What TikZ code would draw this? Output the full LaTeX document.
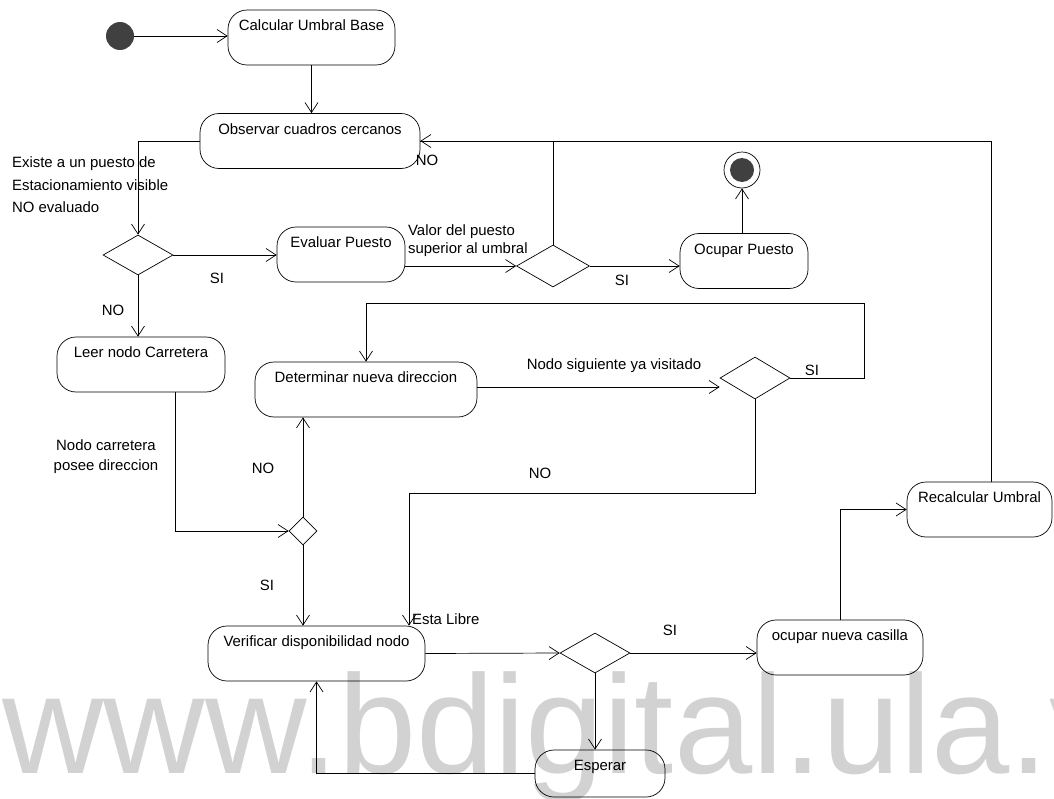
\documentclass[tikz,border=0pt]{standalone}
\usepackage{fontspec}
\setmainfont{Liberation Sans}
\usetikzlibrary{shapes.geometric,arrows.meta}

\begin{document}
\begin{tikzpicture}[x=0.02cm, y=-0.02cm,
    font=\fontsize{8.5}{11}\selectfont,
    act/.style={draw, rounded corners=0.38cm, minimum height=1.1cm, inner xsep=0.1cm,
                inner ysep=0.11cm, text height=0.3cm, text depth=0.58cm},
    decision/.style={draw, diamond, inner sep=0pt},
    flow/.style={-{Straight Barb[length=2mm,width=2.6mm]}},
    lbl/.style={inner sep=1pt}]
    \useasboundingbox (0,0) rectangle (1054,798);
    % Watermark behind everything
    \node[anchor=base west, inner sep=0, text=gray!35, font=\fontsize{80}{80}\selectfont] (marca) at (2,773) {www.bdigital.ula.ve};

    % Start and end
    \node[circle, fill=black!75, minimum size=0.56cm, inner sep=0] (inicio) at (120,36) {};
    \node[circle, draw, minimum size=0.72cm, inner sep=0] (fin) at (742,170) {};
    \node[circle, fill=black!75, minimum size=0.48cm, inner sep=0] (finPunto) at (fin) {};

    % Activities
    \node[act, minimum width=3.34cm] (calc) at (311.5,37.5) {Calcular Umbral Base};
    \node[act, minimum width=4.4cm] (obs) at (310,141) {Observar cuadros cercanos};
    \node[act, minimum width=2.56cm] (eval) at (341,254.5) {Evaluar Puesto};
    \node[act, minimum width=2.56cm] (ocup) at (744,261) {Ocupar Puesto};
    \node[act, minimum width=3.36cm] (leer) at (141,364.5) {Leer nodo Carretera};
    \node[act, minimum width=4.44cm] (det) at (366,389.5) {Determinar nueva direccion};
    \node[act, minimum width=4.34cm] (verif) at (316.5,653.5) {Verificar disponibilidad nodo};
    \node[act, minimum width=3.32cm] (casilla) at (840,647.5) {ocupar nueva casilla};
    \node[act, minimum width=2.9cm] (recalc) at (979.5,509.5) {Recalcular Umbral};
    \node[act, minimum width=2.6cm, minimum height=0.94cm, text depth=0.42cm] (esperar) at (600,773.5) {Esperar};

    % Decisions
    \node[decision, minimum width=1.4cm, minimum height=0.8cm] (d1) at (138,255) {};
    \node[decision, minimum width=1.46cm, minimum height=0.84cm] (d2) at (553,266) {};
    \node[decision, minimum width=0.56cm, minimum height=0.56cm] (d3) at (303,531) {};
    \node[decision, minimum width=1.4cm, minimum height=0.84cm] (d4) at (755,378) {};
    \node[decision, minimum width=1.4cm, minimum height=0.8cm] (d5) at (595,653) {};

    % Corners of the long loops
    \coordinate (vuelta) at (864,303);
    \coordinate (libre) at (409,493);

    % Connectors
    \draw[flow] (inicio.east) -- (calc.west |- inicio.east);
    \draw[flow] (calc.south) -- (calc.south |- obs.north);
    \draw[flow] (obs.west) -| (d1.north);
    \draw[flow] (d1.east) -- (eval.west |- d1.east);
    \draw[flow] (d1.south) -- (d1.south |- leer.north);
    \draw[flow] (eval.east |- d2.west) -- (d2.west);
    \draw[flow] (d2.east) -- (ocup.west |- d2.east);
    \draw[flow] (ocup.north -| fin.south) -- (fin.south);
    \draw (d2.north) |- (obs.east);
    \draw[flow] ([xshift=0.23cm]recalc.north) |- (obs.east);
    \draw[flow] (det.east |- 0,387) -- (d4.west |- 0,387);
    \draw[flow] (d4.east) -| (vuelta) -| (det.north);
    \draw[flow] (d4.south) |- (libre) -- (libre |- verif.north);
    \draw[flow] ([xshift=0.68cm]leer.south) |- (d3.west);
    \draw[flow] (d3.north) -- (d3.north |- det.south);
    \draw[flow] (d3.south) -- (d3.south |- verif.north);
    \draw[flow] (verif.east) -- (d5.west);
    \draw[flow] (d5.east) -- (d5.east -| casilla.west);
    \draw[flow] (casilla.north) |- (recalc.west);
    \draw[flow] (d5.south) -- (d5.south |- esperar.north);
    \draw[flow] (esperar.west) -| (verif.south);

    % Guard labels
    \node[lbl, anchor=north west, align=left, font=\fontsize{8.5}{12.8}\selectfont] (existe) at (10,155) {Existe a un puesto de\\Estacionamiento visible\\NO evaluado};
    \node[lbl] (si1) at (217,278) {SI};
    \node[lbl] (no1) at (113,310) {NO};
    \node[lbl, anchor=north west, align=left, font=\fontsize{8.5}{10.2}\selectfont] (valor) at (406,223) {Valor del puesto\\superior al umbral};
    \node[lbl] (si2) at (622,280) {SI};
    \node[lbl] (no2) at (427,160) {NO};
    \node[lbl] (visitado) at (614,366) {Nodo siguiente ya visitado};
    \node[lbl] (si3) at (812,370) {SI};
    \node[lbl] (no3) at (540,473) {NO};
    \node[lbl, anchor=west] (esta) at (410,619) {Esta Libre};
    \node[lbl, align=center, font=\fontsize{8.5}{11.4}\selectfont] (posee) at (106,457) {Nodo carretera\\posee direccion};
    \node[lbl] (no4) at (263,468) {NO};
    \node[lbl] (si4) at (267,585) {SI};
    \node[lbl] (si5) at (670,630) {SI};
\end{tikzpicture}
\end{document}
